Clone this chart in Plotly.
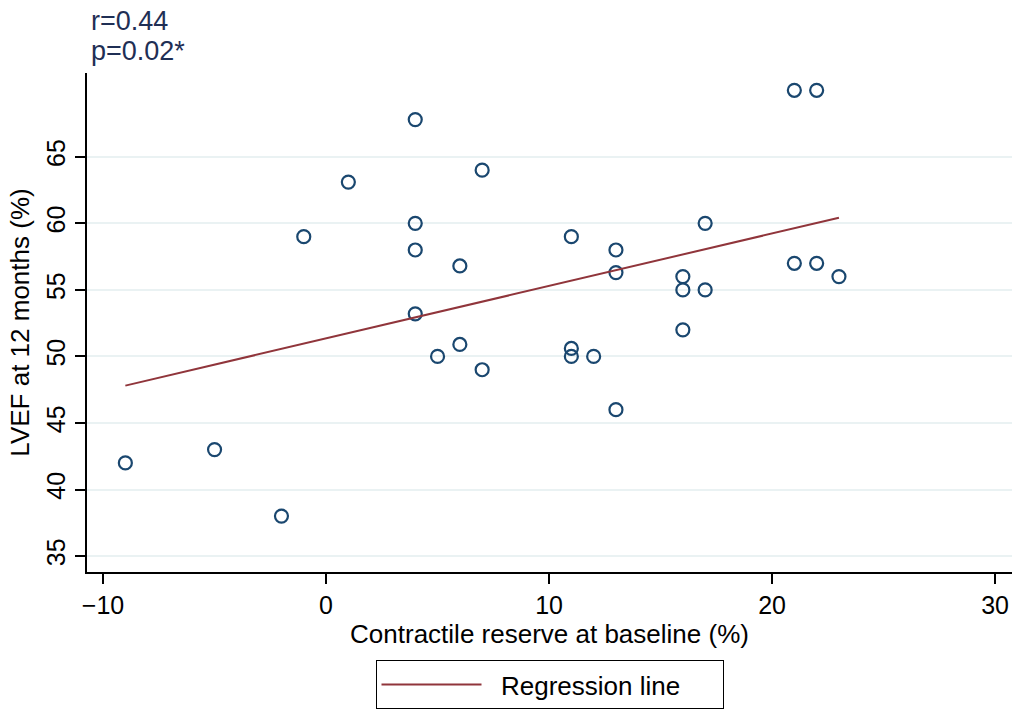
import numpy as np
import plotly.graph_objects as go

# Contractile reserve at baseline (%) and LVEF at 12 months (%) per patient
reserve = [-9, -5, -2, -1, 1, 4, 4, 4, 4, 5, 6, 6, 7, 7, 11, 11, 11, 12,
           13, 13, 13, 16, 16, 16, 17, 17, 21, 22, 21, 22, 23]
lvef = [42, 43, 38, 59, 63.1, 67.8, 60, 58, 53.2, 50, 56.8, 50.9, 64, 49,
        59, 50.6, 50, 50, 58, 56.3, 46, 56, 55, 52, 60, 55, 70, 70, 57, 57, 56]

y_ticks = [35, 40, 45, 50, 55, 60, 65]
x_ticks = [-10, 0, 10, 20, 30]

x = np.array(reserve, dtype=float)
y = np.array(lvef, dtype=float)
slope, intercept = np.polyfit(x, y, 1)
fit_x = np.array([x.min(), x.max()])
fit_y = intercept + slope * fit_x

FONT = "Liberation Sans, Arial, sans-serif"
NAVY = "#1a476f"

fig = go.Figure()
fig.add_trace(go.Scatter(
    x=reserve, y=lvef, mode="markers", showlegend=False,
    marker=dict(symbol="circle-open", size=13, color=NAVY,
                line=dict(width=2.2, color=NAVY)),
))
fig.add_trace(go.Scatter(
    x=fit_x, y=fit_y, mode="lines", name="\u00a0\u00a0Regression line",
    line=dict(color="#90353b", width=2),
))

fig.update_layout(
    width=1015, height=711,
    margin=dict(l=87, r=3, t=73, b=138),
    paper_bgcolor="white", plot_bgcolor="white",
    font=dict(family=FONT, color="black", size=25),
    showlegend=True,
    legend=dict(
        orientation="h", x=0.5, xanchor="center", y=-0.174, yanchor="top",
        bordercolor="black", borderwidth=1, itemwidth=100,
        entrywidth=231, entrywidthmode="pixels",
        font=dict(size=26, family=FONT, color="black"),
    ),
    xaxis=dict(
        range=[-10.72, 30.76], tickvals=x_ticks, showgrid=False, zeroline=False,
        showline=True, linecolor="black", linewidth=1.5,
        ticks="outside", ticklen=10, tickcolor="black", tickwidth=1.5,
        tickfont=dict(size=25, family=FONT),
        title=dict(text="Contractile reserve at baseline (%)",
                   font=dict(size=26, family=FONT), standoff=4),
    ),
    yaxis=dict(
        range=[33.8, 71.3], tickvals=y_ticks, showgrid=True,
        gridcolor="#eaf2f3", gridwidth=1.5, zeroline=False,
        showline=True, linecolor="black", linewidth=1.5,
        ticks="outside", ticklen=10, tickcolor="black", tickwidth=1.5,
        tickangle=-90, tickfont=dict(size=25, family=FONT),
        title=dict(text="LVEF at 12 months (%)",
                   font=dict(size=26, family=FONT), standoff=5),
    ),
)

for label, yshift in (("r=0.44", 52), ("p=0.02*", 22)):
    fig.add_annotation(
        xref="paper", yref="paper", x=0, y=1, xanchor="left", yanchor="middle",
        yshift=yshift, xshift=2, showarrow=False, text=label,
        font=dict(size=27, family=FONT, color="#1f2f55"),
    )

fig.write_html("out.html")
